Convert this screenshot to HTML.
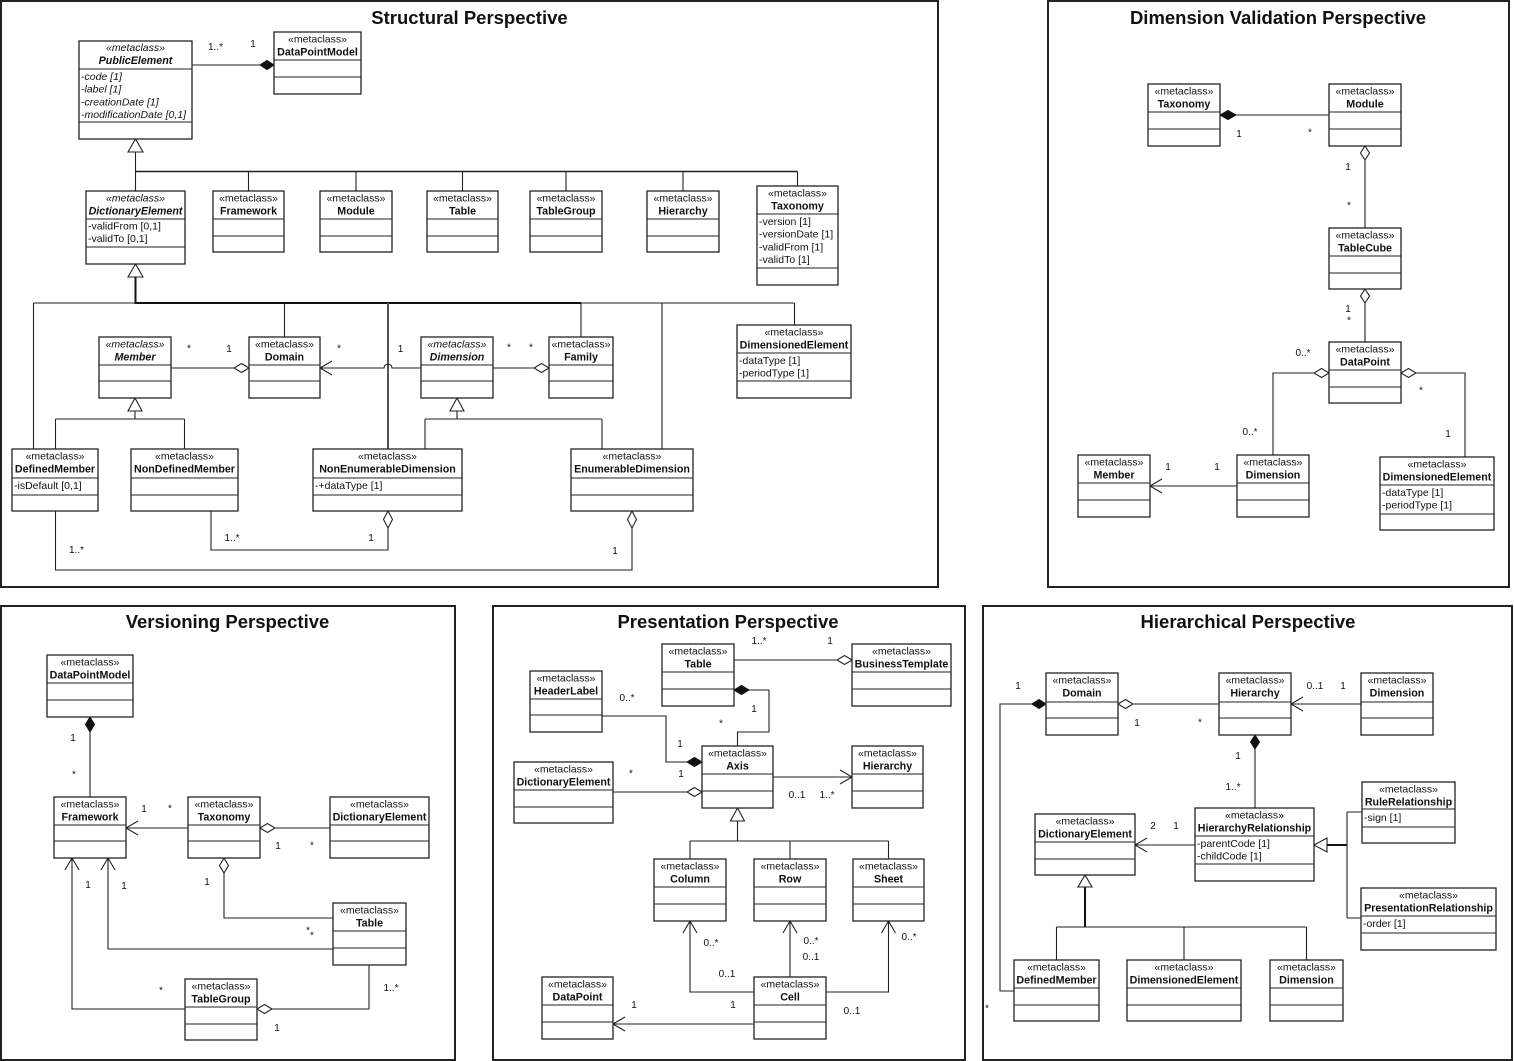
<!DOCTYPE html>
<html><head><meta charset="utf-8">
<style>
html,body{margin:0;padding:0;background:#fff;}
svg{display:block}
.b{fill:#fff;stroke:#222;stroke-width:1.3}
.l{fill:none;stroke:#222;stroke-width:1.1}
.g{fill:none;stroke:#555;stroke-width:2}
.t{fill:none;stroke:#111;stroke-width:2}
.w{fill:#fff;stroke:#222;stroke-width:1.1}
.f{fill:#111;stroke:#111;stroke-width:1}
.p{fill:none;stroke:#222;stroke-width:2}
text{font-family:"Liberation Sans",Arial,sans-serif;fill:#111}
.st{font-size:10.5px;text-anchor:middle}
.nm{font-size:10.7px;font-weight:bold;text-anchor:middle}
.i{font-style:italic}
.at{font-size:10.5px}
.mc{font-size:10px;text-anchor:middle}
.ti{font-size:18.5px;font-weight:bold;text-anchor:middle}
</style></head><body>
<svg width="1514" height="1061" viewBox="0 0 1514 1061" xmlns="http://www.w3.org/2000/svg">
<!-- Panels -->
<rect class="p" x="1" y="1" width="937" height="586"/>
<rect class="p" x="1048" y="1" width="461" height="586"/>
<rect class="p" x="1" y="606" width="454" height="454"/>
<rect class="p" x="493" y="606" width="472" height="454"/>
<rect class="p" x="983" y="606" width="529" height="454"/>

<text class="ti" x="469.5" y="24">Structural Perspective</text>
<text class="ti" x="1278" y="24">Dimension Validation Perspective</text>
<text class="ti" x="227.5" y="628">Versioning Perspective</text>
<text class="ti" x="728" y="628">Presentation Perspective</text>
<text class="ti" x="1248" y="628">Hierarchical Perspective</text>

<!-- ================= STRUCTURAL connectors ================= -->
<path class="l" d="M192 65 H260"/>
<polygon class="f" points="274,65 267,60.5 260,65 267,69.5"/>
<text class="mc" x="215.5" y="50">1..*</text>
<text class="mc" x="253" y="47">1</text>

<polygon class="w" points="135.5,139 128,152 143,152"/>
<path class="l" d="M135.5 152 V191 M248.5 171.5 V191 M356 171.5 V191 M462.5 171.5 V191 M566 171.5 V191 M683 171.5 V191 M797.5 171.5 V186"/>
<path class="l" style="stroke-width:1.6" d="M135.5 171.5 H797.5"/>

<polygon class="w" points="135.5,264 128,277 143,277"/>
<path class="l" d="M33.5 303 H794.5 M33.5 303 V449 M284.5 303 V337 M581 303 V337 M662 303 V449 M794.5 303 V325"/>
<path class="t" d="M135.5 277 V303 H581"/>
<path class="g" d="M388 303 V449"/>

<path class="l" d="M171 368 H234"/>
<polygon class="w" points="249,368 241.5,363.5 234,368 241.5,372.5"/>
<path class="l" d="M421 368 H392 A4 4 0 0 0 384 368 H320 M332 361 L320 368 L332 375"/>
<path class="l" d="M493 368 H534"/>
<polygon class="w" points="549,368 541.5,363.5 534,368 541.5,372.5"/>

<polygon class="w" points="135,398 128,411 142,411"/>
<path class="l" d="M135 411 V419 M55.5 419 H184.5 M55.5 419 V449 M184.5 419 V449"/>
<polygon class="w" points="457,398 450,411 464,411"/>
<path class="l" d="M457 411 V419 M425 419 H602 M425 419 V449 M602 419 V449"/>

<path class="l" d="M211 511 V550 H388 V528"/>
<polygon class="w" points="388,511 383.5,519.5 388,528 392.5,519.5"/>
<path class="l" d="M55.5 511 V570 H632 V528"/>
<polygon class="w" points="632,511 627.5,519.5 632,528 636.5,519.5"/>

<text class="mc" x="189" y="351.5">*</text>
<text class="mc" x="229" y="352">1</text>
<text class="mc" x="339" y="351.5">*</text>
<text class="mc" x="400.5" y="352">1</text>
<text class="mc" x="509" y="350.5">*</text>
<text class="mc" x="531" y="350.5">*</text>
<text class="mc" x="232" y="541">1..*</text>
<text class="mc" x="371" y="541">1</text>
<text class="mc" x="76.5" y="553">1..*</text>
<text class="mc" x="615" y="554">1</text>

<!-- ================= STRUCTURAL boxes ================= -->
<!-- PublicElement -->
<rect class="b" x="79" y="41" width="113" height="98"/>
<path class="l" d="M79 69 H192 M79 122 H192"/>
<text class="st i" x="135.5" y="51">«metaclass»</text>
<text class="nm i" x="135.5" y="64">PublicElement</text>
<text class="at i" x="81" y="80">-code [1]</text>
<text class="at i" x="81" y="92.7">-label [1]</text>
<text class="at i" x="81" y="105.4">-creationDate [1]</text>
<text class="at i" x="81" y="118">-modificationDate [0,1]</text>
<!-- DataPointModel -->
<rect class="b" x="274" y="32" width="87" height="62"/>
<path class="l" d="M274 60 H361 M274 77 H361"/>
<text class="st" x="317.5" y="42.5">«metaclass»</text>
<text class="nm" x="317.5" y="55.5">DataPointModel</text>
<!-- DictionaryElement -->
<rect class="b" x="86" y="191" width="99" height="73"/>
<path class="l" d="M86 219 H185 M86 247 H185"/>
<text class="st i" x="135.5" y="201.5">«metaclass»</text>
<text class="nm i" x="135.5" y="214.5">DictionaryElement</text>
<text class="at" x="88" y="229.5">-validFrom [0,1]</text>
<text class="at" x="88" y="242">-validTo [0,1]</text>
<!-- Framework -->
<rect class="b" x="213" y="191" width="71" height="61"/>
<path class="l" d="M213 219 H284 M213 236 H284"/>
<text class="st" x="248.5" y="201.5">«metaclass»</text>
<text class="nm" x="248.5" y="214.5">Framework</text>
<!-- Module -->
<rect class="b" x="320" y="191" width="72" height="61"/>
<path class="l" d="M320 219 H392 M320 236 H392"/>
<text class="st" x="356" y="201.5">«metaclass»</text>
<text class="nm" x="356" y="214.5">Module</text>
<!-- Table -->
<rect class="b" x="427" y="191" width="71" height="61"/>
<path class="l" d="M427 219 H498 M427 236 H498"/>
<text class="st" x="462.5" y="201.5">«metaclass»</text>
<text class="nm" x="462.5" y="214.5">Table</text>
<!-- TableGroup -->
<rect class="b" x="530" y="191" width="72" height="61"/>
<path class="l" d="M530 219 H602 M530 236 H602"/>
<text class="st" x="566" y="201.5">«metaclass»</text>
<text class="nm" x="566" y="214.5">TableGroup</text>
<!-- Hierarchy -->
<rect class="b" x="647" y="191" width="72" height="61"/>
<path class="l" d="M647 219 H719 M647 236 H719"/>
<text class="st" x="683" y="201.5">«metaclass»</text>
<text class="nm" x="683" y="214.5">Hierarchy</text>
<!-- Taxonomy -->
<rect class="b" x="757" y="186" width="81" height="99"/>
<path class="l" d="M757 214 H838 M757 268 H838"/>
<text class="st" x="797.5" y="196.5">«metaclass»</text>
<text class="nm" x="797.5" y="209.5">Taxonomy</text>
<text class="at" x="759" y="225">-version [1]</text>
<text class="at" x="759" y="237.7">-versionDate [1]</text>
<text class="at" x="759" y="250.4">-validFrom [1]</text>
<text class="at" x="759" y="263">-validTo [1]</text>
<!-- Member -->
<rect class="b" x="99" y="337" width="72" height="61"/>
<path class="l" d="M99 365 H171 M99 381 H171"/>
<text class="st i" x="135" y="347.5">«metaclass»</text>
<text class="nm i" x="135" y="360.5">Member</text>
<!-- Domain -->
<rect class="b" x="249" y="337" width="71" height="61"/>
<path class="l" d="M249 365 H320 M249 381 H320"/>
<text class="st" x="284.5" y="347.5">«metaclass»</text>
<text class="nm" x="284.5" y="360.5">Domain</text>
<!-- Dimension -->
<rect class="b" x="421" y="337" width="72" height="61"/>
<path class="l" d="M421 365 H493 M421 381 H493"/>
<text class="st i" x="457" y="347.5">«metaclass»</text>
<text class="nm i" x="457" y="360.5">Dimension</text>
<!-- Family -->
<rect class="b" x="549" y="337" width="64" height="61"/>
<path class="l" d="M549 365 H613 M549 381 H613"/>
<text class="st" x="581" y="347.5">«metaclass»</text>
<text class="nm" x="581" y="360.5">Family</text>
<!-- DimensionedElement -->
<rect class="b" x="737" y="325" width="114" height="73"/>
<path class="l" d="M737 353 H851 M737 381 H851"/>
<text class="st" x="794" y="335.5">«metaclass»</text>
<text class="nm" x="794" y="348.5">DimensionedElement</text>
<text class="at" x="739" y="364">-dataType [1]</text>
<text class="at" x="739" y="376.7">-periodType [1]</text>
<!-- DefinedMember -->
<rect class="b" x="12" y="449" width="86" height="62"/>
<path class="l" d="M12 478 H98 M12 495 H98"/>
<text class="st" x="55" y="459.5">«metaclass»</text>
<text class="nm" x="55" y="472.5">DefinedMember</text>
<text class="at" x="14" y="489">-isDefault [0,1]</text>
<!-- NonDefinedMember -->
<rect class="b" x="131" y="449" width="107" height="62"/>
<path class="l" d="M131 478 H238 M131 495 H238"/>
<text class="st" x="184.5" y="459.5">«metaclass»</text>
<text class="nm" x="184.5" y="472.5">NonDefinedMember</text>
<!-- NonEnumerableDimension -->
<rect class="b" x="313" y="449" width="149" height="62"/>
<path class="l" d="M313 478 H462 M313 495 H462"/>
<text class="st" x="387.5" y="459.5">«metaclass»</text>
<text class="nm" x="387.5" y="472.5">NonEnumerableDimension</text>
<text class="at" x="315" y="489">-+dataType [1]</text>
<!-- EnumerableDimension -->
<rect class="b" x="571" y="449" width="122" height="62"/>
<path class="l" d="M571 478 H693 M571 495 H693"/>
<text class="st" x="632" y="459.5">«metaclass»</text>
<text class="nm" x="632" y="472.5">EnumerableDimension</text>

<!-- ================= DIMENSION VALIDATION ================= -->
<polygon class="f" points="1220,115 1228,110.5 1236,115 1228,119.5"/>
<path class="l" d="M1236 115 H1329"/>
<polygon class="w" points="1365,146 1369.5,153 1365,160 1360.5,153"/>
<path class="l" d="M1365 160 V228"/>
<polygon class="w" points="1365,289 1369.5,296 1365,303 1360.5,296"/>
<path class="l" d="M1365 303 V342"/>
<polygon class="w" points="1329,373 1321.5,368.5 1314,373 1321.5,377.5"/>
<path class="l" d="M1314 373 H1273 V455"/>
<polygon class="w" points="1401,373 1408.5,368.5 1416,373 1408.5,377.5"/>
<path class="l" d="M1416 373 H1465 V457"/>
<path class="l" d="M1237 486 H1150 M1162 479 L1150 486 L1162 493"/>

<text class="mc" x="1239" y="137">1</text>
<text class="mc" x="1310" y="135.5">*</text>
<text class="mc" x="1348" y="170">1</text>
<text class="mc" x="1349" y="208.5">*</text>
<text class="mc" x="1348" y="312">1</text>
<text class="mc" x="1349" y="323.5">*</text>
<text class="mc" x="1303" y="356">0..*</text>
<text class="mc" x="1250" y="435">0..*</text>
<text class="mc" x="1421" y="393.5">*</text>
<text class="mc" x="1448" y="437">1</text>
<text class="mc" x="1168" y="470">1</text>
<text class="mc" x="1217" y="470">1</text>

<rect class="b" x="1148" y="84" width="72" height="62"/>
<path class="l" d="M1148 112 H1220 M1148 129 H1220"/>
<text class="st" x="1184" y="94.5">«metaclass»</text>
<text class="nm" x="1184" y="107.5">Taxonomy</text>

<rect class="b" x="1329" y="84" width="72" height="62"/>
<path class="l" d="M1329 112 H1401 M1329 129 H1401"/>
<text class="st" x="1365" y="94.5">«metaclass»</text>
<text class="nm" x="1365" y="107.5">Module</text>

<rect class="b" x="1329" y="228" width="72" height="61"/>
<path class="l" d="M1329 256 H1401 M1329 273 H1401"/>
<text class="st" x="1365" y="238.5">«metaclass»</text>
<text class="nm" x="1365" y="251.5">TableCube</text>

<rect class="b" x="1329" y="342" width="72" height="61"/>
<path class="l" d="M1329 370 H1401 M1329 387 H1401"/>
<text class="st" x="1365" y="352.5">«metaclass»</text>
<text class="nm" x="1365" y="365.5">DataPoint</text>

<rect class="b" x="1078" y="455" width="72" height="62"/>
<path class="l" d="M1078 483 H1150 M1078 500 H1150"/>
<text class="st" x="1114" y="465.5">«metaclass»</text>
<text class="nm" x="1114" y="478.5">Member</text>

<rect class="b" x="1237" y="455" width="72" height="62"/>
<path class="l" d="M1237 483 H1309 M1237 500 H1309"/>
<text class="st" x="1273" y="465.5">«metaclass»</text>
<text class="nm" x="1273" y="478.5">Dimension</text>

<rect class="b" x="1380" y="457" width="114" height="73"/>
<path class="l" d="M1380 485 H1494 M1380 514 H1494"/>
<text class="st" x="1437" y="467.5">«metaclass»</text>
<text class="nm" x="1437" y="480.5">DimensionedElement</text>
<text class="at" x="1382" y="496">-dataType [1]</text>
<text class="at" x="1382" y="508.7">-periodType [1]</text>

<!-- ================= VERSIONING ================= -->
<polygon class="f" points="90,717 94.5,724.5 90,732 85.5,724.5"/>
<path class="l" d="M90 732 V797"/>
<path class="l" d="M188 828 H126 M138 821 L126 828 L138 835"/>
<polygon class="w" points="260,828 267.5,823.5 275,828 267.5,832.5"/>
<path class="l" d="M275 828 H330"/>
<polygon class="w" points="224,858 228.5,865.5 224,873 219.5,865.5"/>
<path class="l" d="M224 873 V918 H333"/>
<path class="l" d="M333 949 H108 V858 M101 870 L108 858 L115 870"/>
<path class="l" d="M185 1009 H72 V858 M65 870 L72 858 L79 870"/>
<path class="l" d="M369 965 V1009 H272"/>
<polygon class="w" points="257,1009 264.5,1004.5 272,1009 264.5,1013.5"/>

<text class="mc" x="73" y="741">1</text>
<text class="mc" x="74" y="777.5">*</text>
<text class="mc" x="144" y="812">1</text>
<text class="mc" x="170" y="811.5">*</text>
<text class="mc" x="278" y="849">1</text>
<text class="mc" x="312" y="848.5">*</text>
<text class="mc" x="207" y="885">1</text>
<text class="mc" x="308" y="933.5">*</text>
<text class="mc" x="312" y="938.5">*</text>
<text class="mc" x="88" y="888">1</text>
<text class="mc" x="124" y="889">1</text>
<text class="mc" x="161" y="993.5">*</text>
<text class="mc" x="391" y="991">1..*</text>
<text class="mc" x="277" y="1031">1</text>

<rect class="b" x="47" y="655" width="86" height="62"/>
<path class="l" d="M47 683 H133 M47 700 H133"/>
<text class="st" x="90" y="665.5">«metaclass»</text>
<text class="nm" x="90" y="678.5">DataPointModel</text>

<rect class="b" x="54" y="797" width="72" height="61"/>
<path class="l" d="M54 825 H126 M54 841 H126"/>
<text class="st" x="90" y="807.5">«metaclass»</text>
<text class="nm" x="90" y="820.5">Framework</text>

<rect class="b" x="188" y="797" width="72" height="61"/>
<path class="l" d="M188 825 H260 M188 841 H260"/>
<text class="st" x="224" y="807.5">«metaclass»</text>
<text class="nm" x="224" y="820.5">Taxonomy</text>

<rect class="b" x="330" y="797" width="99" height="61"/>
<path class="l" d="M330 825 H429 M330 841 H429"/>
<text class="st" x="379.5" y="807.5">«metaclass»</text>
<text class="nm" x="379.5" y="820.5">DictionaryElement</text>

<rect class="b" x="333" y="903" width="73" height="62"/>
<path class="l" d="M333 931 H406 M333 948 H406"/>
<text class="st" x="369.5" y="913.5">«metaclass»</text>
<text class="nm" x="369.5" y="926.5">Table</text>

<rect class="b" x="185" y="979" width="72" height="61"/>
<path class="l" d="M185 1007 H257 M185 1024 H257"/>
<text class="st" x="221" y="989.5">«metaclass»</text>
<text class="nm" x="221" y="1002.5">TableGroup</text>

<!-- ================= PRESENTATION ================= -->
<path class="l" d="M734 660 H837"/>
<polygon class="w" points="852,660 844.5,655.5 837,660 844.5,664.5"/>
<polygon class="f" points="734,690 741.5,685.5 749,690 741.5,694.5"/>
<path class="l" d="M749 690 H769 V732 H737.5 V746"/>
<path class="l" d="M602 716 H666 V762 H687"/>
<polygon class="f" points="702,762 694.5,757.5 687,762 694.5,766.5"/>
<path class="l" d="M613 792 H687"/>
<polygon class="w" points="702,792 694.5,787.5 687,792 694.5,796.5"/>
<path class="l" d="M773 777 H852 M840 770 L852 777 L840 784"/>
<polygon class="w" points="737.5,808 730.5,821 744.5,821"/>
<path class="l" d="M737.5 821 V841 M690 841 H888.5 M690 841 V859 M790 841 V859 M888.5 841 V859"/>
<path class="l" d="M754 992 H690 V921 M683 933 L690 921 L697 933"/>
<path class="l" d="M790 977 V921 M783 933 L790 921 L797 933"/>
<path class="l" d="M826 992 H888.5 V921 M881.5 933 L888.5 921 L895.5 933"/>
<path class="l" d="M754 1024 H613 M625 1017 L613 1024 L625 1031"/>

<text class="mc" x="759" y="644">1..*</text>
<text class="mc" x="830" y="644">1</text>
<text class="mc" x="627" y="701">0..*</text>
<text class="mc" x="754" y="712">1</text>
<text class="mc" x="721" y="726.5">*</text>
<text class="mc" x="680" y="747">1</text>
<text class="mc" x="631" y="776.5">*</text>
<text class="mc" x="681" y="777">1</text>
<text class="mc" x="797" y="798">0..1</text>
<text class="mc" x="827" y="798">1..*</text>
<text class="mc" x="711" y="946">0..*</text>
<text class="mc" x="727" y="977">0..1</text>
<text class="mc" x="811" y="944">0..*</text>
<text class="mc" x="811" y="960">0..1</text>
<text class="mc" x="909" y="940">0..*</text>
<text class="mc" x="852" y="1014">0..1</text>
<text class="mc" x="634" y="1008">1</text>
<text class="mc" x="733" y="1008">1</text>

<rect class="b" x="662" y="644" width="72" height="62"/>
<path class="l" d="M662 672 H734 M662 689 H734"/>
<text class="st" x="698" y="654.5">«metaclass»</text>
<text class="nm" x="698" y="667.5">Table</text>

<rect class="b" x="852" y="644" width="99" height="62"/>
<path class="l" d="M852 672 H951 M852 689 H951"/>
<text class="st" x="901.5" y="654.5">«metaclass»</text>
<text class="nm" x="901.5" y="667.5">BusinessTemplate</text>

<rect class="b" x="530" y="671" width="72" height="61"/>
<path class="l" d="M530 699 H602 M530 715 H602"/>
<text class="st" x="566" y="681.5">«metaclass»</text>
<text class="nm" x="566" y="694.5">HeaderLabel</text>

<rect class="b" x="702" y="746" width="71" height="62"/>
<path class="l" d="M702 774 H773 M702 791 H773"/>
<text class="st" x="737.5" y="756.5">«metaclass»</text>
<text class="nm" x="737.5" y="769.5">Axis</text>

<rect class="b" x="514" y="762" width="99" height="61"/>
<path class="l" d="M514 790 H613 M514 807 H613"/>
<text class="st" x="563.5" y="772.5">«metaclass»</text>
<text class="nm" x="563.5" y="785.5">DictionaryElement</text>

<rect class="b" x="852" y="746" width="71" height="62"/>
<path class="l" d="M852 774 H923 M852 791 H923"/>
<text class="st" x="887.5" y="756.5">«metaclass»</text>
<text class="nm" x="887.5" y="769.5">Hierarchy</text>

<rect class="b" x="654" y="859" width="72" height="62"/>
<path class="l" d="M654 887 H726 M654 904 H726"/>
<text class="st" x="690" y="869.5">«metaclass»</text>
<text class="nm" x="690" y="882.5">Column</text>

<rect class="b" x="754" y="859" width="72" height="62"/>
<path class="l" d="M754 887 H826 M754 904 H826"/>
<text class="st" x="790" y="869.5">«metaclass»</text>
<text class="nm" x="790" y="882.5">Row</text>

<rect class="b" x="853" y="859" width="71" height="62"/>
<path class="l" d="M853 887 H924 M853 904 H924"/>
<text class="st" x="888.5" y="869.5">«metaclass»</text>
<text class="nm" x="888.5" y="882.5">Sheet</text>

<rect class="b" x="542" y="977" width="71" height="62"/>
<path class="l" d="M542 1005 H613 M542 1022 H613"/>
<text class="st" x="577.5" y="987.5">«metaclass»</text>
<text class="nm" x="577.5" y="1000.5">DataPoint</text>

<rect class="b" x="754" y="977" width="72" height="62"/>
<path class="l" d="M754 1005 H826 M754 1022 H826"/>
<text class="st" x="790" y="987.5">«metaclass»</text>
<text class="nm" x="790" y="1000.5">Cell</text>

<!-- ================= HIERARCHICAL ================= -->
<path class="l" d="M1133 704 H1219"/>
<polygon class="w" points="1118,704 1125.5,699.5 1133,704 1125.5,708.5"/>
<path class="l" d="M1361 704 H1291 M1303 697 L1291 704 L1303 711"/>
<polygon class="f" points="1255,735 1259.5,742 1255,749 1250.5,742"/>
<path class="l" d="M1255 749 V808"/>
<path class="l" d="M1195 845 H1135 M1147 838 L1135 845 L1147 852"/>
<polygon class="w" points="1314,845 1327,838 1327,852"/>
<path class="t" d="M1327 845 H1347"/>
<path class="l" d="M1347 812 V918 M1347 812 H1362 M1347 918 H1361"/>
<polygon class="w" points="1085,875 1078,887 1092,887"/>
<path class="t" d="M1085 887 V927"/>
<path class="l" d="M1056.5 927 H1306.5 M1056.5 927 V960 M1184 927 V960 M1306.5 927 V960"/>
<polygon class="f" points="1046,704 1039,699.5 1032,704 1039,708.5"/>
<path class="l" d="M1032 704 H1000 V991 H1014"/>

<text class="mc" x="1018" y="689">1</text>
<text class="mc" x="1137" y="726">1</text>
<text class="mc" x="1200" y="725.5">*</text>
<text class="mc" x="1315" y="689">0..1</text>
<text class="mc" x="1343" y="689">1</text>
<text class="mc" x="1238" y="759">1</text>
<text class="mc" x="1233" y="790">1..*</text>
<text class="mc" x="1153" y="829">2</text>
<text class="mc" x="1176" y="829">1</text>
<text class="mc" x="987" y="1011.5">*</text>

<rect class="b" x="1046" y="673" width="72" height="62"/>
<path class="l" d="M1046 702 H1118 M1046 718 H1118"/>
<text class="st" x="1082" y="683.5">«metaclass»</text>
<text class="nm" x="1082" y="696.5">Domain</text>

<rect class="b" x="1219" y="673" width="72" height="62"/>
<path class="l" d="M1219 702 H1291 M1219 718 H1291"/>
<text class="st" x="1255" y="683.5">«metaclass»</text>
<text class="nm" x="1255" y="696.5">Hierarchy</text>

<rect class="b" x="1361" y="673" width="72" height="62"/>
<path class="l" d="M1361 702 H1433 M1361 718 H1433"/>
<text class="st" x="1397" y="683.5">«metaclass»</text>
<text class="nm" x="1397" y="696.5">Dimension</text>

<rect class="b" x="1195" y="808" width="119" height="73"/>
<path class="l" d="M1195 836 H1314 M1195 864 H1314"/>
<text class="st" x="1254.5" y="818.5">«metaclass»</text>
<text class="nm" x="1254.5" y="831.5">HierarchyRelationship</text>
<text class="at" x="1197" y="847">-parentCode [1]</text>
<text class="at" x="1197" y="859.7">-childCode [1]</text>

<rect class="b" x="1035" y="814" width="100" height="61"/>
<path class="l" d="M1035 842 H1135 M1035 859 H1135"/>
<text class="st" x="1085" y="824.5">«metaclass»</text>
<text class="nm" x="1085" y="837.5">DictionaryElement</text>

<rect class="b" x="1362" y="782" width="93" height="61"/>
<path class="l" d="M1362 809 H1455 M1362 827 H1455"/>
<text class="st" x="1408.5" y="792.5">«metaclass»</text>
<text class="nm" x="1408.5" y="805.5">RuleRelationship</text>
<text class="at" x="1364" y="821">-sign [1]</text>

<rect class="b" x="1361" y="888" width="135" height="62"/>
<path class="l" d="M1361 916 H1496 M1361 933 H1496"/>
<text class="st" x="1428.5" y="898.5">«metaclass»</text>
<text class="nm" x="1428.5" y="911.5">PresentationRelationship</text>
<text class="at" x="1363" y="927">-order [1]</text>

<rect class="b" x="1014" y="960" width="85" height="61"/>
<path class="l" d="M1014 988 H1099 M1014 1005 H1099"/>
<text class="st" x="1056.5" y="970.5">«metaclass»</text>
<text class="nm" x="1056.5" y="983.5">DefinedMember</text>

<rect class="b" x="1127" y="960" width="114" height="61"/>
<path class="l" d="M1127 988 H1241 M1127 1005 H1241"/>
<text class="st" x="1184" y="970.5">«metaclass»</text>
<text class="nm" x="1184" y="983.5">DimensionedElement</text>

<rect class="b" x="1270" y="960" width="73" height="61"/>
<path class="l" d="M1270 988 H1343 M1270 1005 H1343"/>
<text class="st" x="1306.5" y="970.5">«metaclass»</text>
<text class="nm" x="1306.5" y="983.5">Dimension</text>
</svg>
</body></html>
